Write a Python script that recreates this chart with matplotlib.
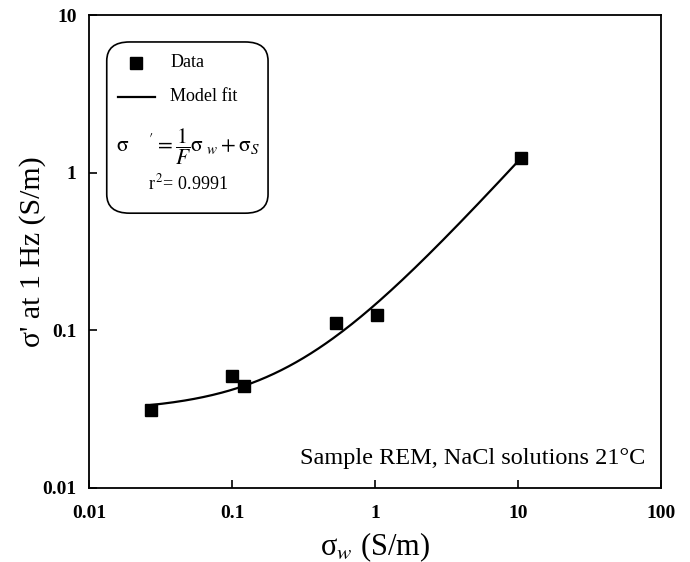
import numpy as np
import matplotlib
matplotlib.use("Agg")
import matplotlib.pyplot as plt
from matplotlib.patches import FancyBboxPatch
from matplotlib.lines import Line2D

plt.rcParams['font.family'] = ['Liberation Serif', 'DejaVu Serif']
plt.rcParams['mathtext.fontset'] = 'stix'

# measured data (NaCl solutions, sample REM)
sigma_w = [0.0272, 0.100, 0.121, 0.534, 1.03, 10.5]
sigma_real = [0.0312, 0.0512, 0.0442, 0.1107, 0.1245, 1.244]

# model fit parameters: sigma' = sigma_w / F + sigma_s
F = 8.7
sigma_s = 0.0305

fig = plt.figure(figsize=(6.9, 5.62), dpi=100)
ax = fig.add_axes([0.129, 0.1317, 0.829, 0.8416])

xfit = np.logspace(np.log10(sigma_w[0]), np.log10(sigma_w[-1]), 200)
ax.plot(xfit, xfit / F + sigma_s, color='black', lw=1.6, zorder=2)
ax.plot(sigma_w, sigma_real, 's', color='black', ms=8, zorder=3)

ax.set_xscale('log')
ax.set_yscale('log')
ax.set_xlim(0.01, 100)
ax.set_ylim(0.01, 10)
ax.set_xticks([0.01, 0.1, 1, 10, 100])
ax.set_xticklabels(['0.01', '0.1', '1', '10', '100'])
ax.set_yticks([0.01, 0.1, 1, 10])
ax.set_yticklabels(['0.01', '0.1', '1', '10'])
ax.minorticks_off()
ax.tick_params(direction='in', length=6, width=1.2, labelsize=14)
ax.tick_params(axis='x', pad=12)
ax.tick_params(axis='y', pad=9)
for lab in ax.get_xticklabels() + ax.get_yticklabels():
    lab.set_fontweight('bold')
for sp in ax.spines.values():
    sp.set_linewidth(1.3)

ax.set_xlabel(r'σ$_{\mathit{w}}$ (S/m)', fontsize=22, labelpad=6)
ax.set_ylabel("σ' at 1 Hz (S/m)", fontsize=21.5)
ax.yaxis.set_label_coords(-0.075, 0.5)

# legend box
box = FancyBboxPatch((0.031, 0.581), 0.282, 0.362, transform=ax.transAxes,
                     boxstyle='round,pad=0,rounding_size=0.04',
                     fc='white', ec='black', lw=1.2, zorder=4)
ax.add_patch(box)
ax.add_line(Line2D([0.082], [0.899], marker='s', ms=8, color='black',
                   transform=ax.transAxes, zorder=5))
ax.add_line(Line2D([0.051, 0.115], [0.827, 0.827], color='black', lw=1.6,
                   transform=ax.transAxes, zorder=5))
ax.text(0.142, 0.899, 'Data', transform=ax.transAxes, fontsize=13,
        va='center', zorder=6)
ax.text(0.142, 0.827, 'Model fit', transform=ax.transAxes, fontsize=13,
        va='center', zorder=6)
ax.text(0.173, 0.722,
        r"$\mathrm{\sigma}\ \ \ \ \mathrm{'} = \dfrac{1}{F}\mathrm{\sigma}_{\ w}+\mathrm{\sigma}_S$",
        transform=ax.transAxes, fontsize=15.5, ha='center', va='center', zorder=6)
ax.text(0.173, 0.645, r'r$^{\,2}$= 0.9991', transform=ax.transAxes,
        fontsize=13, ha='center', va='center', zorder=6)

ax.text(0.972, 0.063, 'Sample REM, NaCl solutions 21°C', transform=ax.transAxes,
        fontsize=17.5, ha='right', va='center')

fig.savefig('out.png', dpi=100)
